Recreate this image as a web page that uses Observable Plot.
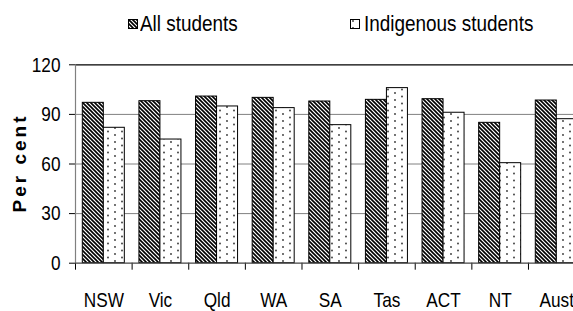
<!DOCTYPE html>
<html>
<head>
<meta charset="utf-8">
<script src="https://cdn.jsdelivr.net/npm/d3@7"></script>
<script src="https://cdn.jsdelivr.net/npm/@observablehq/plot@0.6"></script>
<style>
  html, body { margin: 0; padding: 0; background: #fff; }
  #wrap { position: relative; width: 573px; height: 311px; overflow: hidden; background: #fff;
          font-family: "Liberation Sans", Arial, sans-serif; }
  #chart { position: absolute; left: 0; top: 0; }
  #chart svg { max-width: none !important; }
  .leg { position: absolute; top: 13px; font-size: 22px; line-height: 22px; color: #000; white-space: nowrap;
         transform: scaleX(0.86); transform-origin: left center; }
  .sw { position: absolute; width: 10px; height: 10px; top: 19px; }
  #ytitle { position: absolute; left: 20px; top: 163px; transform: translate(-50%, -50%) rotate(-90deg);
            font-family: "Liberation Sans", Arial, sans-serif; font-weight: bold; font-size: 19px;
            letter-spacing: 3px; white-space: nowrap; color: #000; }
</style>
</head>
<body>
<svg width="0" height="0" style="position:absolute">
  <defs>
    <pattern id="stripes" patternUnits="userSpaceOnUse" width="4" height="4">
      <rect width="4" height="4" fill="#fff"/>
      <path d="M-1,-1 L5,5 M-1,3 L1,5 M3,-1 L5,1" stroke="#000" stroke-width="1.6"/>
    </pattern>
    <pattern id="dots" patternUnits="userSpaceOnUse" width="14" height="7">
      <rect width="14" height="7" fill="#fff"/>
      <circle cx="3" cy="2" r="0.9" fill="#333"/>
      <circle cx="10" cy="5.5" r="0.9" fill="#333"/>
    </pattern>
  </defs>
</svg>
<div id="wrap">
  <div id="chart"></div>
  <svg class="sw" style="left:128px" width="10" height="10"><rect x="0.5" y="0.5" width="9" height="9" fill="url(#stripes)" stroke="#000"/></svg>
  <div class="leg" style="left:140px">All students</div>
  <svg class="sw" style="left:350px" width="10" height="10"><rect x="0.5" y="0.5" width="9" height="9" fill="url(#dots)" stroke="#000"/></svg>
  <div class="leg" style="left:364px">Indigenous students</div>
  <div id="ytitle">Per cent</div>
</div>
<script>
const categories = ["NSW", "Vic", "Qld", "WA", "SA", "Tas", "ACT", "NT", "Aust"];
const allStudents = [97.0, 98.0, 100.8, 100.0, 97.8, 98.8, 99.2, 84.9, 98.4];
const indigenousStudents = [81.9, 74.8, 94.8, 93.8, 83.5, 105.9, 91.0, 60.5, 87.1];
const yTicks = [0, 30, 60, 90, 120];

const barW = 0.371;
const rows = categories.flatMap((c, i) => [
  {i, cat: c, series: "All students", v: allStudents[i], x1: i - barW, x2: i},
  {i, cat: c, series: "Indigenous students", v: indigenousStudents[i], x1: i, x2: i + barW}
]);
const boundaries = d3.range(categories.length + 1).map(k => k - 0.5);

const chart = Plot.plot({
  width: 585,
  height: 311,
  marginLeft: 75,
  marginRight: 0.4,
  marginTop: 64.3,
  marginBottom: 48.3,
  style: {fontFamily: "'Liberation Sans', Arial, sans-serif", fontSize: "21px", background: "#fff", color: "#000", maxWidth: "none"},
  x: {domain: [-0.5, categories.length - 0.5], ticks: boundaries, tickSize: 7, tickFormat: () => "", label: null},
  y: {domain: [0, 120], ticks: yTicks, tickSize: 6, tickPadding: 9, label: null},
  marks: [
    Plot.ruleY(yTicks.filter(t => t > 0 && t < 120), {stroke: "#808080", strokeWidth: 1}),
    Plot.ruleY([120], {stroke: "#000", strokeWidth: 1.2}),
    Plot.rectY(rows, {
      x1: "x1", x2: "x2", y: "v",
      fill: d => d.series === "All students" ? "url(#stripes)" : "url(#dots)",
      stroke: "#000", strokeWidth: 1
    }),
    Plot.ruleX([-0.5], {stroke: "#808080", strokeWidth: 1.2}),
    Plot.ruleY([0], {stroke: "#444", strokeWidth: 1.2}),
    Plot.text(categories, {x: (d, i) => i, text: d => d, frameAnchor: "bottom", dy: 37, lineAnchor: "middle", fontSize: 21})
  ]
});
document.getElementById("chart").appendChild(chart);
// emulate the narrow (condensed) typeface of the original: squeeze each text about its anchor point
chart.querySelectorAll("text").forEach(t => {
  const x = parseFloat(t.getAttribute("x") || "0") || 0;
  const prev = t.getAttribute("transform") || "";
  t.setAttribute("transform", `${prev} translate(${x},0) scale(0.82,1) translate(${-x},0)`.trim());
});
</script>
</body>
</html>
